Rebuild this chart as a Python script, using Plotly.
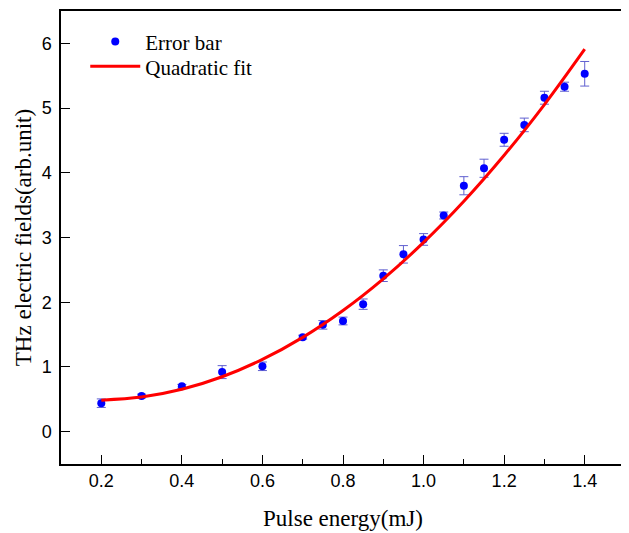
import plotly.graph_objects as go

pulse_energy = [0.2, 0.3, 0.4, 0.5, 0.6, 0.7, 0.75, 0.8, 0.85, 0.9, 0.95,
                1.0, 1.05, 1.1, 1.15, 1.2, 1.25, 1.3, 1.35, 1.4]
thz_field = [0.44, 0.55, 0.70, 0.92, 1.01, 1.46, 1.65, 1.71, 1.97, 2.41, 2.74,
             2.97, 3.34, 3.80, 4.07, 4.51, 4.74, 5.16, 5.33, 5.53]
field_err = [0.066, 0.03, 0.03, 0.10, 0.066, 0.03, 0.066, 0.06, 0.08, 0.09, 0.135,
             0.09, 0.054, 0.14, 0.14, 0.10, 0.105, 0.10, 0.07, 0.19]

# Quadratic fit curve
fit_x = [0.2, 0.3, 0.4, 0.5, 0.6, 0.7, 0.8, 0.9, 1.0, 1.1, 1.2, 1.3, 1.4]
fit_y = [0.487, 0.534, 0.654, 0.848, 1.116, 1.457, 1.872, 2.361, 2.924, 3.56, 4.27, 5.054, 5.91]

x_tick_vals = [0.2, 0.4, 0.6, 0.8, 1.0, 1.2, 1.4]
x_tick_text = ["0.2", "0.4", "0.6", "0.8", "1.0", "1.2", "1.4"]
y_tick_vals = [0, 1, 2, 3, 4, 5, 6]

serif = "Liberation Serif"
sans = "Liberation Sans"

fig = go.Figure()
fig.add_trace(go.Scatter(
    x=pulse_energy, y=thz_field, mode="markers", name="Error bar",
    marker=dict(color="#0000ff", size=8),
    error_y=dict(type="data", array=field_err, visible=True,
                 color="#6060d0", thickness=1, width=4.5),
    legend="legend",
))
fig.add_trace(go.Scatter(
    x=fit_x, y=fit_y, mode="lines", name="Quadratic fit",
    line=dict(color="#ff0000", width=3, shape="spline"),
    legend="legend2",
))

legend_common = dict(xanchor="left", yanchor="middle",
                     font=dict(family=serif, size=21, color="black"),
                     bgcolor="rgba(0,0,0,0)", itemwidth=50, borderwidth=0)

# The page body adds an 8px offset; the figure is sized to fill the rest of the window.
fig.update_layout(
    width=621, height=525,
    margin=dict(l=53, r=4, t=3, b=69),
    paper_bgcolor="white", plot_bgcolor="white",
    showlegend=True,
    legend=dict(x=0.043, y=0.932, **legend_common),
    legend2=dict(x=0.043, y=0.877, **legend_common),
    xaxis=dict(
        range=[0.1, 1.5], tickvals=x_tick_vals, ticktext=x_tick_text,
        ticks="inside", ticklen=9, tickwidth=1.2, tickcolor="black",
        minor=dict(dtick=0.1, tick0=0.1, ticks="inside", ticklen=5, tickwidth=1.2, tickcolor="black"),
        showline=True, linecolor="black", linewidth=1.5, mirror=True,
        showgrid=False, zeroline=False, automargin=False,
        tickfont=dict(family=sans, size=18, color="black"),
        title=dict(text="Pulse energy(mJ)", font=dict(family=serif, size=23, color="black"), standoff=20),
    ),
    yaxis=dict(
        range=[-0.5, 6.5], tickvals=y_tick_vals,
        ticks="inside", ticklen=9, tickwidth=1.2, tickcolor="black",
        showline=True, linecolor="black", linewidth=1.5, mirror=True,
        showgrid=False, zeroline=False, automargin=False,
        tickfont=dict(family=sans, size=18, color="black"),
        ticklabelstandoff=4,
        title=dict(text="THz electric fields(arb.unit)", font=dict(family=serif, size=23, color="black"), standoff=4),
    ),
)

fig.write_html("out.html")
